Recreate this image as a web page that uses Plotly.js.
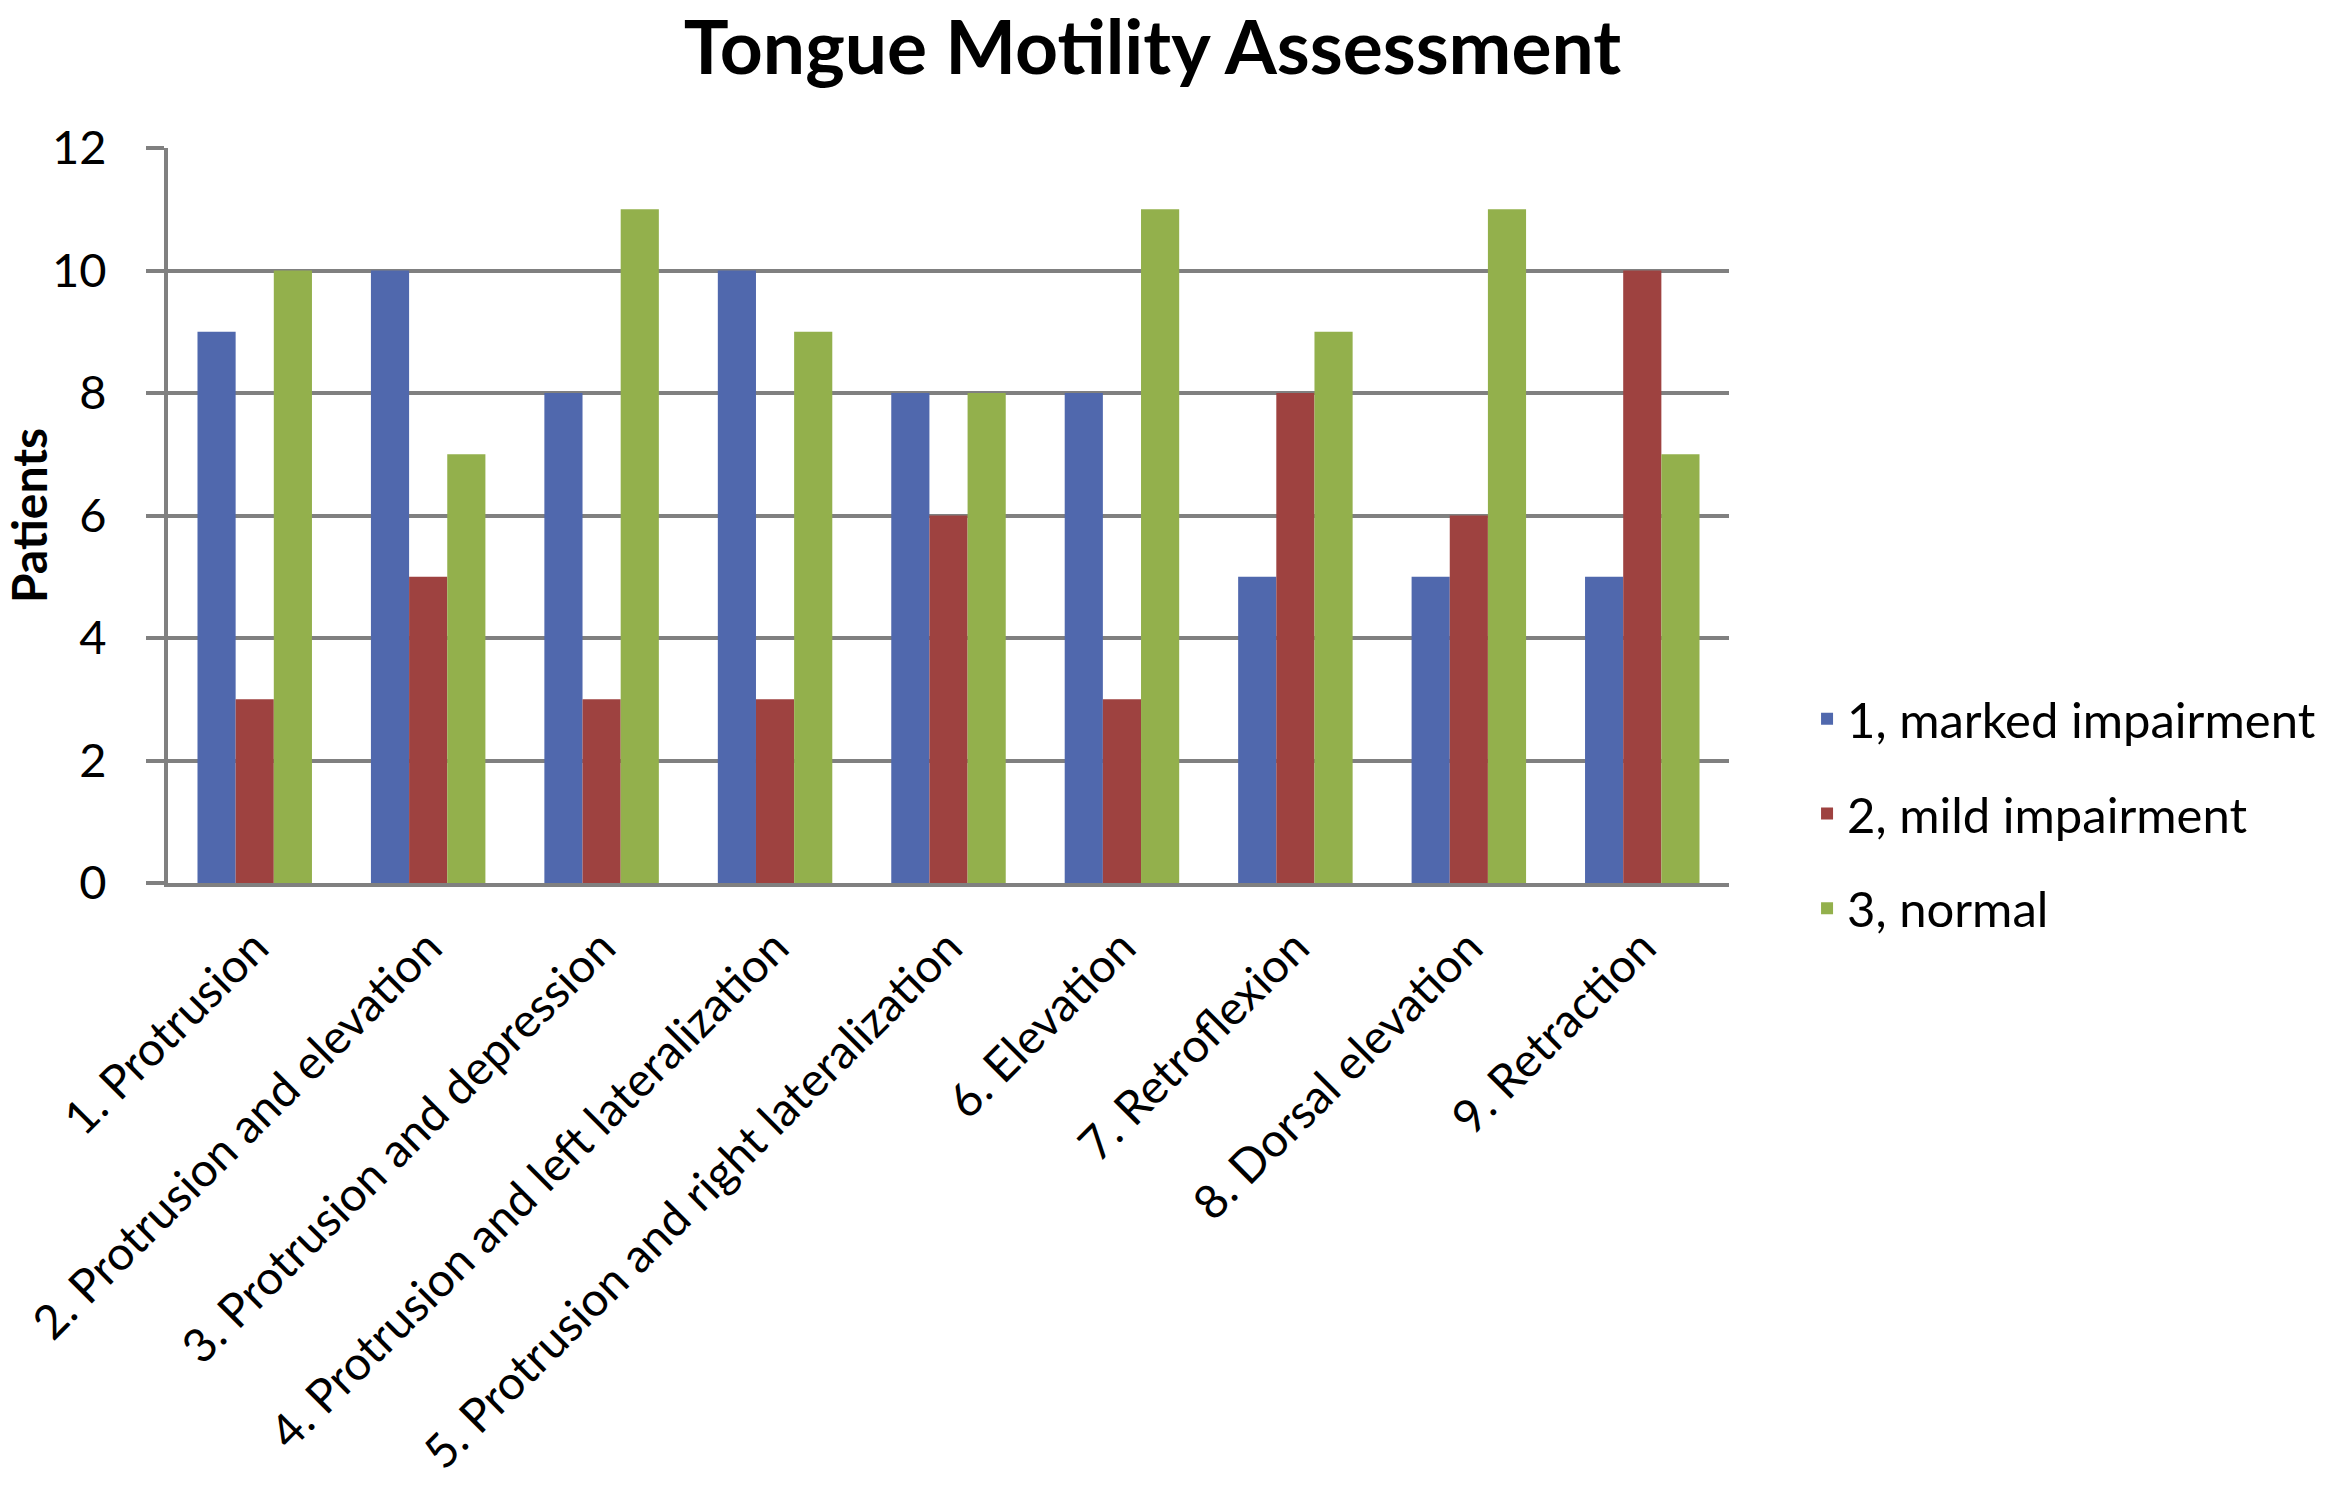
<!DOCTYPE html>
<html>
<head>
<meta charset="utf-8">
<script src="https://cdn.plot.ly/plotly-3.0.1.min.js"></script>
<style>
  html, body { margin: 0; padding: 0; background: #fff; }
  #chart { width: 2333px; height: 1493px; }
</style>
</head>
<body>
<div id="chart"></div>
<script>
// movements on the x axis
const movements = [
  '1. Protrusion',
  '2. Protrusion and elevation',
  '3. Protrusion and depression',
  '4. Protrusion and left lateralization',
  '5. Protrusion and right lateralization',
  '6. Elevation',
  '7. Retroflexion',
  '8. Dorsal elevation',
  '9. Retraction'
];

const markedImpairment = [9, 10, 8, 10, 8, 8, 5, 5, 5];
const mildImpairment   = [3, 5, 3, 3, 6, 3, 8, 6, 10];
const normal           = [10, 7, 11, 9, 8, 11, 9, 11, 7];

const seriesNames = ['1, marked impairment', '2, mild impairment', '3, normal'];
const yTicks = [0, 2, 4, 6, 8, 10, 12];

const fontFam = 'Lato, "Open Sans", sans-serif';

function barTrace(vals, name, color, grp) {
  return {
    type: 'bar',
    x: movements,
    y: vals,
    name: name,
    legendgroup: grp,
    marker: { color: color, line: { width: 0 } },
    hoverinfo: 'x+y+name'
  };
}

const data = [
  barTrace(markedImpairment, seriesNames[0], '#5068ad', 'a'),
  barTrace(mildImpairment, seriesNames[1], '#9e4240', 'b'),
  barTrace(normal, seriesNames[2], '#93b04c', 'c')
];

const layout = {
  width: 2333,
  height: 1493,
  paper_bgcolor: '#ffffff',
  plot_bgcolor: '#ffffff',
  font: { family: fontFam, color: '#000000', size: 40 },
  margin: { l: 168, r: 598, t: 148, b: 610 },
  barmode: 'group',
  bargap: 0.34,
  bargroupgap: 0,
  title: {
    text: '<b>Tongue Motility Assessment</b>',
    font: { family: fontFam, size: 75, color: '#000' },
    x: 0.494,
    xanchor: 'center',
    xref: 'container',
    yref: 'container',
    y: 0.968,
    yanchor: 'middle'
  },
  xaxis: {
    type: 'category',
    tickangle: -45,
    tickfont: { family: fontFam, size: 47, color: '#000' },
    showgrid: false,
    showline: true,
    linecolor: '#808080',
    linewidth: 4,
    ticks: '',
    ticklabelstandoff: 14,
    zeroline: false
  },
  yaxis: {
    range: [0, 12],
    tickvals: yTicks,
    ticktext: yTicks.map(String),
    tickfont: { family: fontFam, size: 47, color: '#000' },
    showgrid: true,
    gridcolor: '#808080',
    gridwidth: 4,
    showline: true,
    linecolor: '#808080',
    linewidth: 4,
    ticks: 'outside',
    ticklen: 18,
    tickwidth: 4,
    tickcolor: '#808080',
    ticklabelstandoff: 30,
    zeroline: false,
    title: {
      text: '<b>Patients</b>',
      font: { family: fontFam, size: 48, color: '#000' },
      standoff: 30
    }
  },
  showlegend: true,
  legend: {
    x: 1.05,
    xanchor: 'left',
    y: 0.094,
    yanchor: 'middle',
    font: { family: fontFam, size: 49, color: '#000' },
    tracegroupgap: 28,
    traceorder: 'grouped',
    bgcolor: 'rgba(0,0,0,0)'
  }
};

Plotly.newPlot('chart', data, layout, { staticPlot: true, displayModeBar: false });
</script>
</body>
</html>
